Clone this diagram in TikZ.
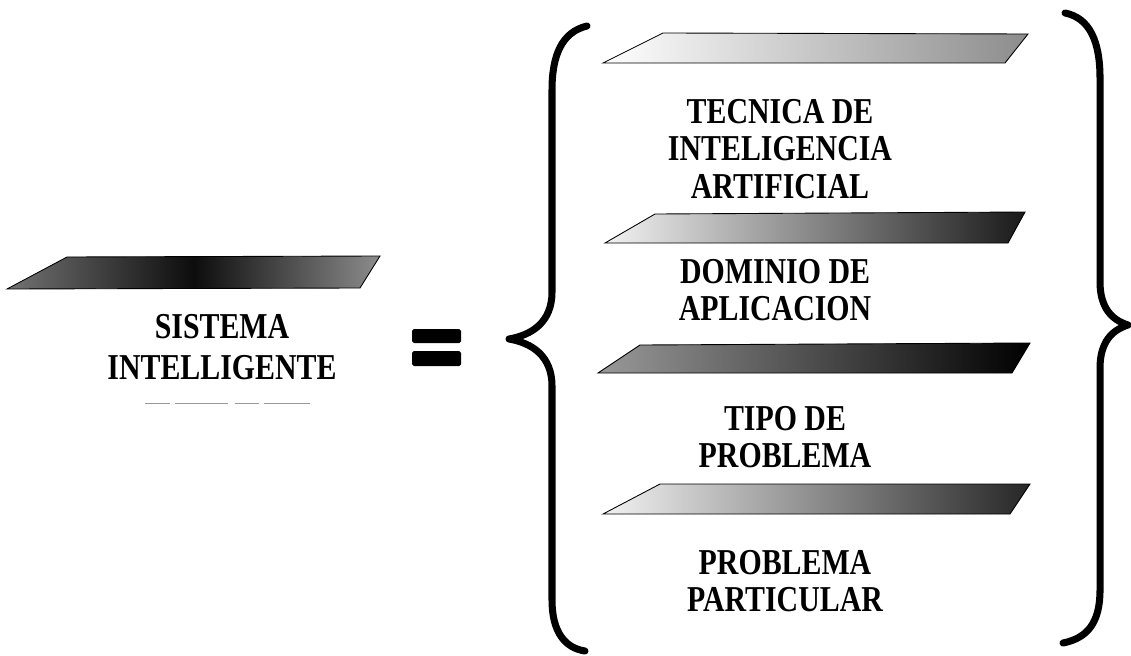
\documentclass[tikz,border=0pt]{standalone}
\usepackage{fontspec}
\setmainfont{Liberation Serif}

\begin{document}
\begin{tikzpicture}[x=0.02cm,y=-0.02cm,
   lbl/.style={font=\bfseries\fontsize{17}{17.5}\selectfont, align=center, inner sep=0pt, yscale=1.22},
   stripe/.style={draw=black, line width=0.5pt},
   brace/.style={line width=4pt, line cap=round, line join=round}]
   \useasboundingbox (0,0) rectangle (1131,655);
   % left side
   \path[stripe, left color=black!55, right color=black!45, middle color=black!95]
    (7,289) -- (67,257) -- (380,256) -- (360,288) -- cycle;
   \draw (222,347) node[lbl, font=\bfseries\fontsize{17}{19}\selectfont] (sistema)
    {SISTEMA\\INTELLIGENTE};
   \draw[black!40, line width=0.4pt, dash pattern=on 14pt off 3pt on 30pt off 4pt] (145,403) -- (310,403);
   \fill[rounded corners=1pt] (412,329) rectangle (461,343);
   \fill[rounded corners=1pt] (412,351) rectangle (461,366);
   % braces
   \draw[brace] (587,26) .. controls (562,32) and (552,55) .. (552,90) -- (552,292)
    .. controls (552,322) and (532,335) .. (509,339)
    .. controls (532,343) and (552,356) .. (552,386) -- (552,600)
    .. controls (552,632) and (565,648) .. (585,651);
   \draw[brace] (1065,13) .. controls (1090,18) and (1100,42) .. (1100,78) -- (1100,282)
    .. controls (1100,308) and (1112,320) .. (1128,325)
    .. controls (1112,330) and (1100,342) .. (1100,368) -- (1100,590)
    .. controls (1100,622) and (1088,638) .. (1063,643);
   % right side
   \path[stripe, left color=white, right color=black!45] (603,63) -- (663,33) -- (1028,34) -- (1005,63) -- cycle;
   \draw (780,149) node[lbl] (tecnica) {TECNICA DE\\INTELIGENCIA\\ARTIFICIAL};
   \path[stripe, left color=black!5, right color=black!90] (605,243) -- (655,214) -- (1025,212) -- (1008,243) -- cycle;
   \draw (775,290) node[lbl] (dominio) {DOMINIO DE\\APLICACION};
   \path[stripe, left color=black!40, right color=black] (598,373) -- (640,345) -- (1030,343) -- (1012,373) -- cycle;
   \draw (785,437) node[lbl] (tipo) {TIPO DE\\PROBLEMA};
   \path[stripe, left color=black!5, right color=black!85] (603,514) -- (660,484) -- (1030,484) -- (1010,514) -- cycle;
   \draw (785,581) node[lbl] (particular) {PROBLEMA\\PARTICULAR};
\end{tikzpicture}
\end{document}
